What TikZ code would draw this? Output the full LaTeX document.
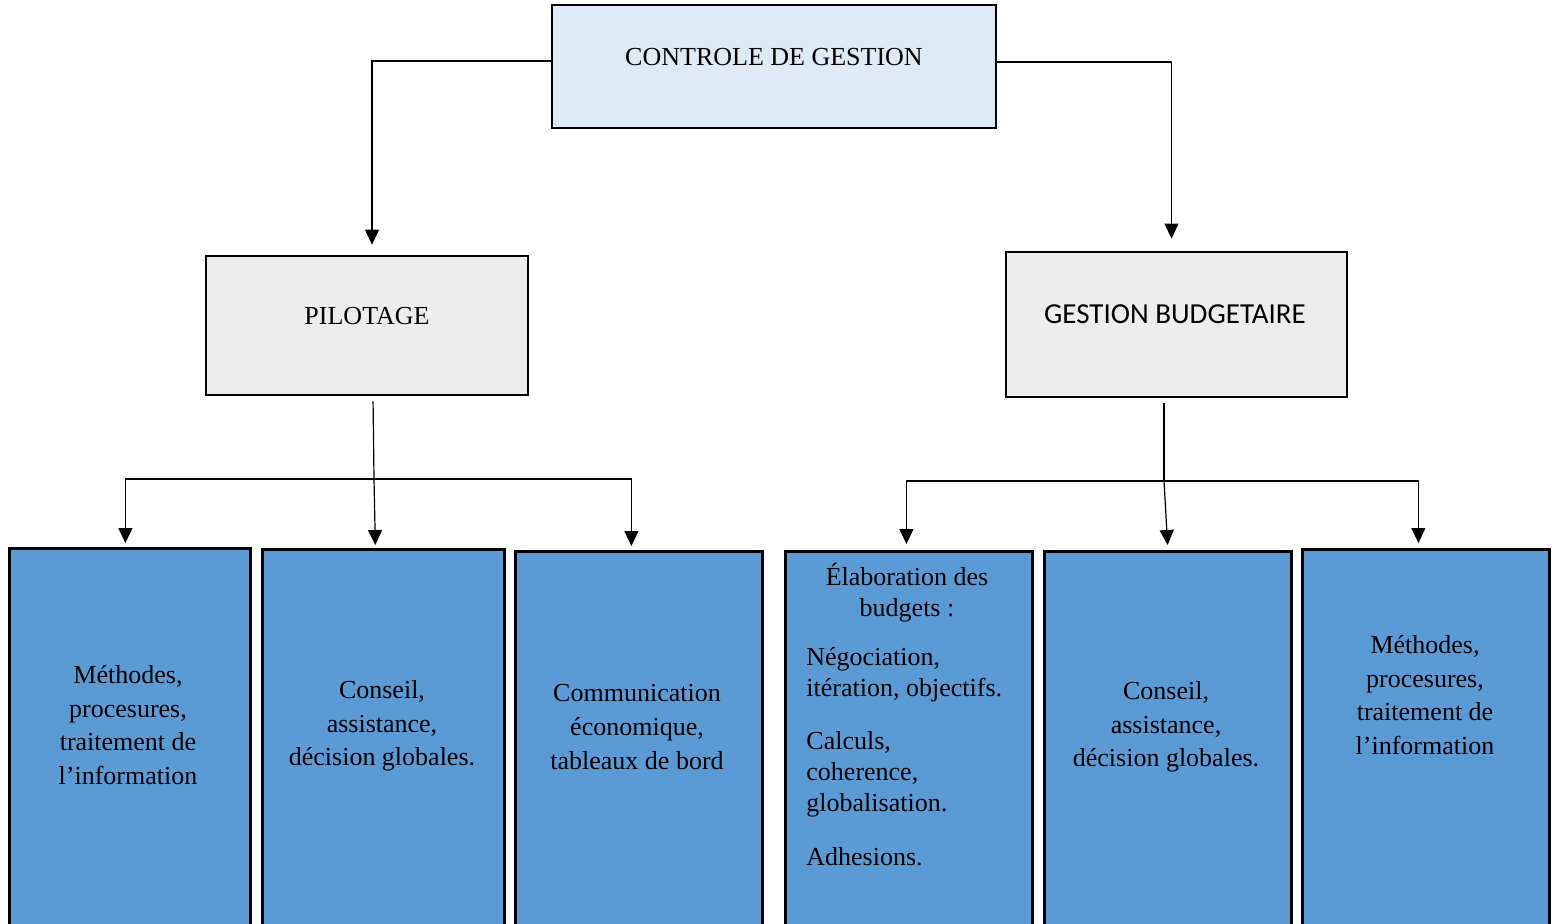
\documentclass[tikz,border=0pt]{standalone}
\usepackage{fontspec}
\setmainfont{Liberation Serif}
\newfontfamily\calibrifont{Carlito}
\usetikzlibrary{arrows.meta}
\definecolor{topfill}{HTML}{DEEAF6}
\definecolor{greyfill}{HTML}{EDEDED}
\definecolor{bluefill}{HTML}{5B9BD5}
\begin{document}
\begin{tikzpicture}[x=0.5pt,y=-0.5pt,
  box/.style={draw=black, line width=1.4pt, inner sep=0pt},
  lowbox/.style={box, fill=bluefill, anchor=north west, minimum height=192pt},
  txt/.style={inner sep=0pt, align=center, font=\fontsize{13}{16.8}\selectfont},
  conn/.style={line width=0.6pt},
  arr/.style={conn, -{Triangle[width=7pt,length=7.5pt]}},
]
\useasboundingbox (0,0) rectangle (1556,923);

% top level
\node[box, fill=topfill, minimum width=222pt, minimum height=61.5pt] (ctrl) at (774,66.5) {};
\node[txt] (ctrlt) at (774,57) {CONTROLE DE GESTION};

% second level
\node[box, fill=greyfill, minimum width=161pt, minimum height=69.5pt] (pil) at (367,325.5) {};
\node[txt] (pilt) at (367,316) {PILOTAGE};
\node[box, fill=greyfill, minimum width=170.5pt, minimum height=72.5pt] (gb) at (1176.5,324.5) {};
\node[txt, font=\calibrifont\fontsize{14.5}{17}\selectfont] (gbt) at (1175,314) {GESTION BUDGETAIRE};

% bottom level
\node[lowbox, minimum width=120.5pt] (b1) at (8,547) {};
\node[lowbox, minimum width=121pt] (b2) at (261,548) {};
\node[lowbox, minimum width=123.5pt] (b3) at (514,550) {};
\node[lowbox, minimum width=123.5pt] (b4) at (784,550) {};
\node[lowbox, minimum width=123.5pt] (b5) at (1043,550) {};
\node[lowbox, minimum width=123.5pt] (b6) at (1301,548) {};

\node[txt] (b1t) at (128,725) {Méthodes,\\procesures,\\traitement de\\l’information};
\node[txt] (b2t) at (382,726) {Conseil,\\assistance,\\décision globales.};
\node[txt] (b3t) at (637,727) {Communication\\économique,\\tableaux de bord};
\node[txt, font=\fontsize{13}{15.5}\selectfont] (b4t) at (907,593) {Élaboration des\\budgets :};
\node[txt, align=left, anchor=west, font=\fontsize{13}{15.5}\selectfont] (b4a) at (806,675) {Négociation,\\itération, objectifs.};
\node[txt, align=left, anchor=west, font=\fontsize{13}{15.5}\selectfont] (b4b) at (806,774) {Calculs,\\coherence,\\globalisation.};
\node[txt, align=left, anchor=west] (b4c) at (806,857) {Adhesions.};
\node[txt] (b5t) at (1166,727) {Conseil,\\assistance,\\décision globales.};
\node[txt] (b6t) at (1425,695) {Méthodes,\\procesures,\\traitement de\\l’information};

% connectors from top
\draw[arr, shorten >=5pt] ([yshift=2.75pt]ctrl.west) -| ([xshift=2.5pt]pil.north);
\draw[arr, shorten >=6pt] ([yshift=2.25pt]ctrl.east) -| ([xshift=-2.5pt]gb.north);

% pilotage branches
\coordinate (pj) at (374,479);
\draw[conn, shorten <=2.5pt] ([xshift=3pt]pil.south) -- (pj);
\draw[arr, shorten >=2pt] (pj) -| ([xshift=-2.25pt]b1.north);
\draw[arr, shorten >=1.5pt] (pj) -- ([xshift=-4pt]b2.north);
\draw[arr, shorten >=2pt] (pj) -| ([xshift=-3.75pt]b3.north);

% gestion budgetaire branches
\coordinate (gj) at (1164,481);
\draw[conn, shorten <=2.5pt] ([xshift=-6.25pt]gb.south) -- (gj);
\draw[arr, shorten >=3pt] (gj) -| ([xshift=-1.25pt]b4.north);
\draw[arr, shorten >=2.5pt] (gj) -- ([xshift=0pt]b5.north);
\draw[arr, shorten >=2.5pt] (gj) -| ([xshift=-3.75pt]b6.north);
\end{tikzpicture}
\end{document}
